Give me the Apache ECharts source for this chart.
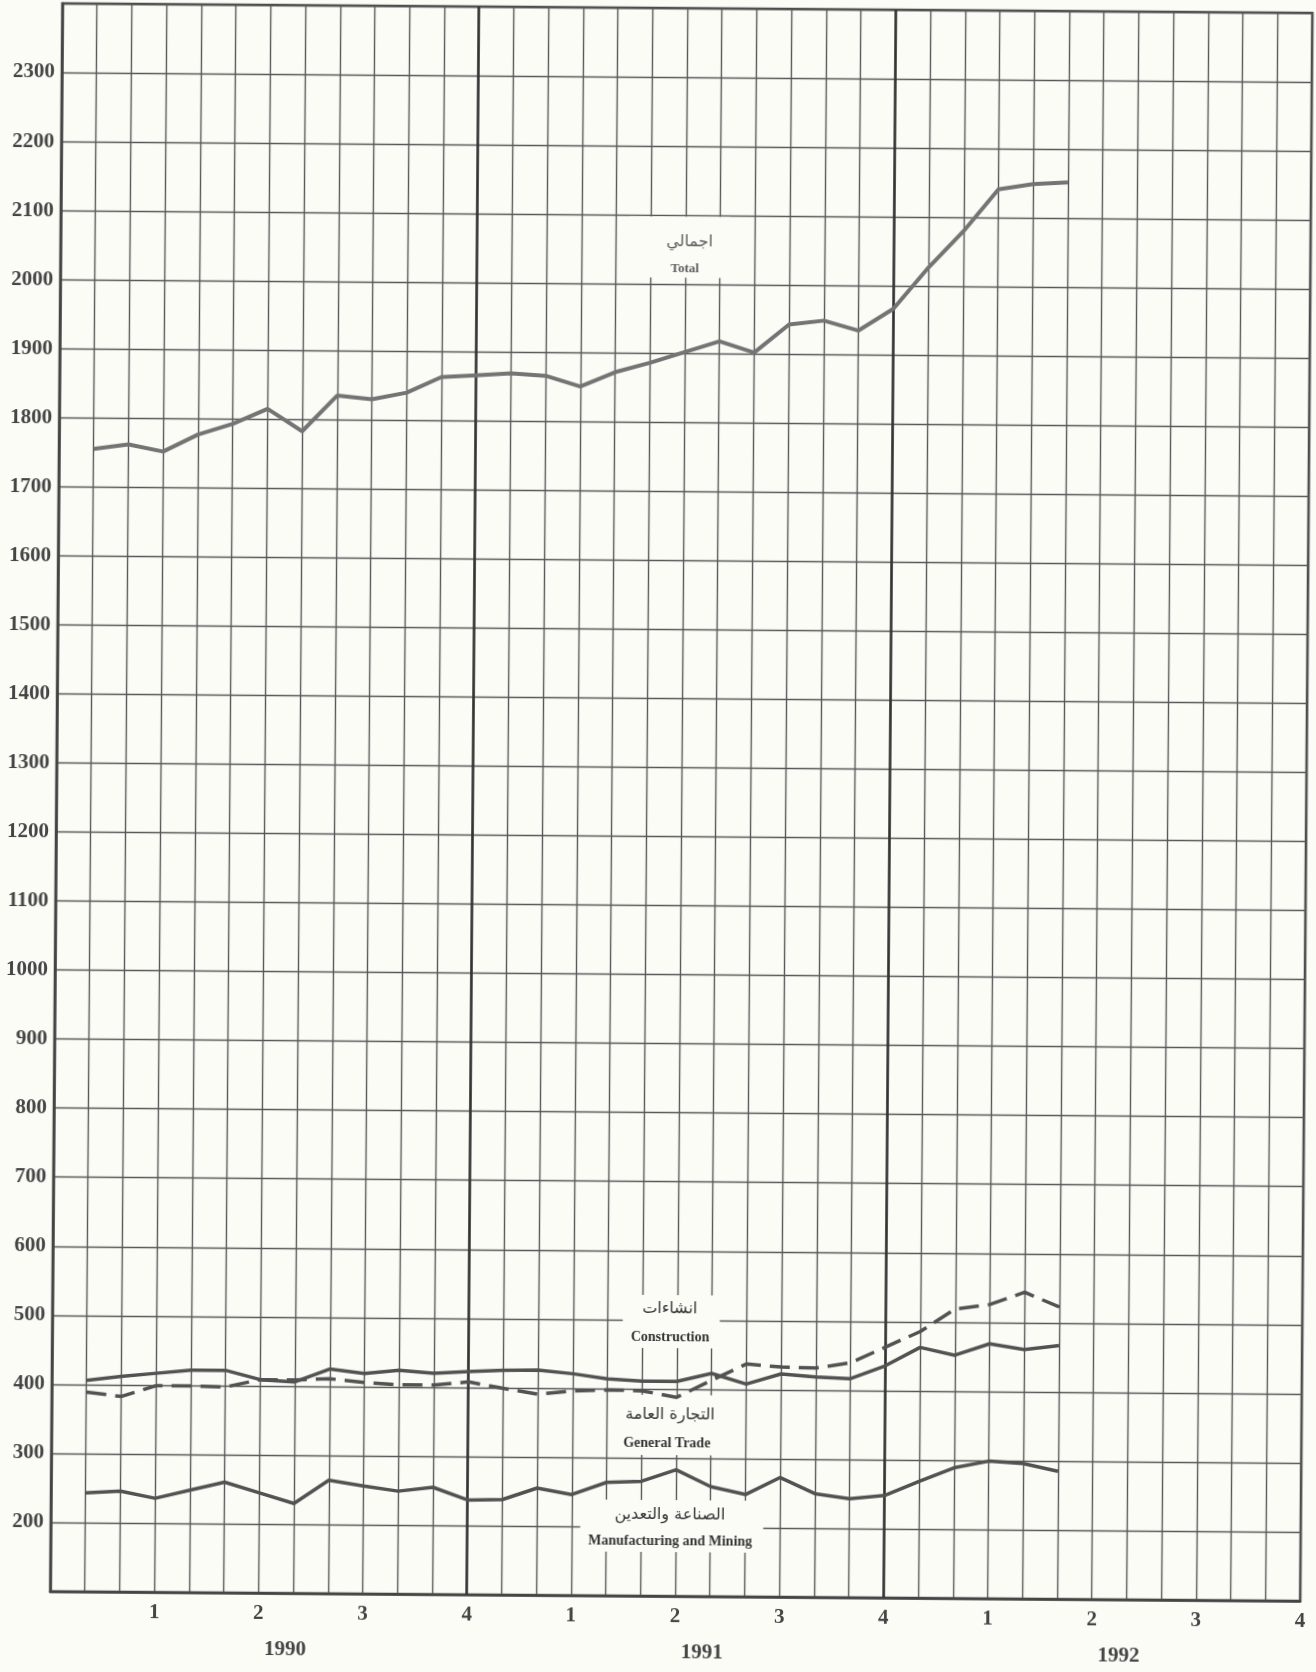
<!DOCTYPE html>
<html>
<head>
<meta charset="utf-8">
<script src="https://cdn.jsdelivr.net/npm/echarts/dist/echarts.min.js"></script>
<style>
  html, body { margin: 0; padding: 0; background: #fcfcf7; overflow: hidden; }
  #chart { width: 1316px; height: 1672px; transform: rotate(0.44deg); transform-origin: 658px 836px; }
</style>
</head>
<body>
<div id="chart"></div>
<script>
// ---- data ----
const years = ['1990', '1991', '1992'];
const quarterLabels = ['1', '2', '3', '4'];
const monthsTotal = 36;          // 3 years x 12 months (grid columns)
const yearDividers = [12, 24];   // month boundaries where a year ends
const yMin = 100, yMax = 2400, yStep = 100;

const total         = [1755, 1762, 1752, 1777, 1793, 1815, 1783, 1835, 1830, 1840, 1863, 1866, 1869, 1866, 1851, 1872, 1886, 1902, 1918, 1902, 1943, 1949, 1935, 1967, 2027, 2080, 2141, 2149, 2152];
const generalTrade  = [406, 412, 417, 422, 422, 409, 406, 425, 419, 424, 420, 423, 425, 426, 421, 414, 411, 411, 423, 408, 423, 419, 417, 436, 463, 452, 469, 461, 467];
const construction  = [389, 383, 399, 399, 398, 409, 409, 411, 406, 403, 403, 408, 399, 391, 396, 398, 397, 388, 413, 437, 433, 432, 440, 463, 486, 519, 526, 544, 523];
const manufacturing = [243, 246, 236, 248, 260, 245, 230, 264, 256, 249, 255, 237, 238, 255, 246, 264, 266, 283, 259, 248, 273, 250, 243, 248, 269, 289, 299, 296, 285];

const labelTotal = ['اجمالي', 'Total'];
const labelConstruction = ['انشاءات', 'Construction'];
const labelTrade = ['التجارة العامة', 'General Trade'];
const labelManufacturing = ['الصناعة والتعدين', 'Manufacturing and Mining'];

// ---- chart ----
const serif = "'Liberation Serif', 'DejaVu Serif', serif";
const arabicFont = "'DejaVu Sans', 'Noto Sans', sans-serif";
const toPoints = arr => arr.map((v, i) => [i + 1, v]);

function labelBlock(cx, cy, w, h, ar, arY, arX, en, enY, enX, color, enSize) {
  return [
    { type: 'rect', z: 5, x: cx - w / 2, y: cy - h / 2, shape: { width: w, height: h }, style: { fill: '#fcfcf7' } },
    { type: 'text', z: 6, x: arX, y: arY, style: { text: ar, font: '16px ' + arabicFont, fill: color, textAlign: 'center', textVerticalAlign: 'middle' } },
    { type: 'text', z: 6, x: enX, y: enY, style: { text: en, font: 'bold ' + enSize + 'px ' + serif, fill: color, textAlign: 'center', textVerticalAlign: 'middle' } }
  ];
}

const chart = echarts.init(document.getElementById('chart'), null, { renderer: 'canvas' });
const gridLine = { color: '#585858', width: 1.4 };

const option = {
  backgroundColor: 'transparent',
  animation: false,
  grid: { left: 56, right: 10, top: 8, bottom: 76, show: true, borderColor: '#474747', borderWidth: 2.5, containLabel: false },
  xAxis: [
    {
      type: 'value', min: 0, max: monthsTotal, interval: 1, position: 'bottom',
      axisLine: { show: true, onZero: false, lineStyle: { color: '#444', width: 2.5 } },
      axisTick: { show: false },
      splitLine: { show: true, lineStyle: gridLine },
      axisLabel: {
        show: true, margin: 10, fontFamily: serif, fontWeight: 'bold', fontSize: 21, color: '#454545',
        showMinLabel: false, showMaxLabel: true,
        formatter: v => (v > 0 && v % 3 === 0) ? quarterLabels[(v / 3 - 1) % 4] : ''
      }
    },
    {
      type: 'category', data: years, position: 'bottom', boundaryGap: true,
      axisLine: { show: false }, axisTick: { show: false }, splitLine: { show: false },
      axisLabel: { margin: 46, fontFamily: serif, fontWeight: 'bold', fontSize: 21, color: '#454545', padding: [0, 0, 0, 54] }
    }
  ],
  yAxis: {
    type: 'value', min: yMin, max: yMax, interval: yStep,
    axisLine: { show: true, onZero: false, lineStyle: { color: '#444', width: 2.5 } },
    axisTick: { show: false },
    splitLine: { show: true, lineStyle: gridLine },
    axisLabel: {
      margin: 7, fontFamily: serif, fontWeight: 'bold', fontSize: 21, color: '#454545', padding: [0, 0, 6, 0],
      formatter: v => (v === yMin || v === yMax) ? '' : String(v)
    }
  },
  series: [
    {
      name: 'Total', type: 'line', data: toPoints(total), symbol: 'none', z: 10,
      lineStyle: { color: '#747474', width: 4 },
      markLine: {
        silent: true, symbol: ['none', 'none'], label: { show: false },
        lineStyle: { color: '#333', width: 2.6, type: 'solid' },
        data: yearDividers.map(x => ({ xAxis: x }))
      }
    },
    { name: 'General Trade', type: 'line', data: toPoints(generalTrade), symbol: 'none', z: 10, lineStyle: { color: '#525252', width: 3.5 } },
    { name: 'Construction', type: 'line', data: toPoints(construction), symbol: 'none', z: 10, lineStyle: { color: '#525252', width: 3.5, type: [20, 9] } },
    { name: 'Manufacturing and Mining', type: 'line', data: toPoints(manufacturing), symbol: 'none', z: 10, lineStyle: { color: '#525252', width: 3.5 } }
  ],
  graphic: {
    elements: [].concat(
      labelBlock(675.5, 247, 100, 61, labelTotal[0], 241.5, 685, labelTotal[1], 269, 680.5, '#5c5c5c', 13),
      labelBlock(675, 1321.5, 97, 53, labelConstruction[0], 1309, 673.5, labelConstruction[1], 1337, 674, '#333', 14),
      labelBlock(672, 1425, 115, 60, labelTrade[0], 1415, 674.5, labelTrade[1], 1443, 671.5, '#333', 14),
      labelBlock(677, 1526, 183, 52, labelManufacturing[0], 1515, 675, labelManufacturing[1], 1541, 675.5, '#333', 14)
    )
  }
};
chart.setOption(option);
</script>
</body>
</html>
